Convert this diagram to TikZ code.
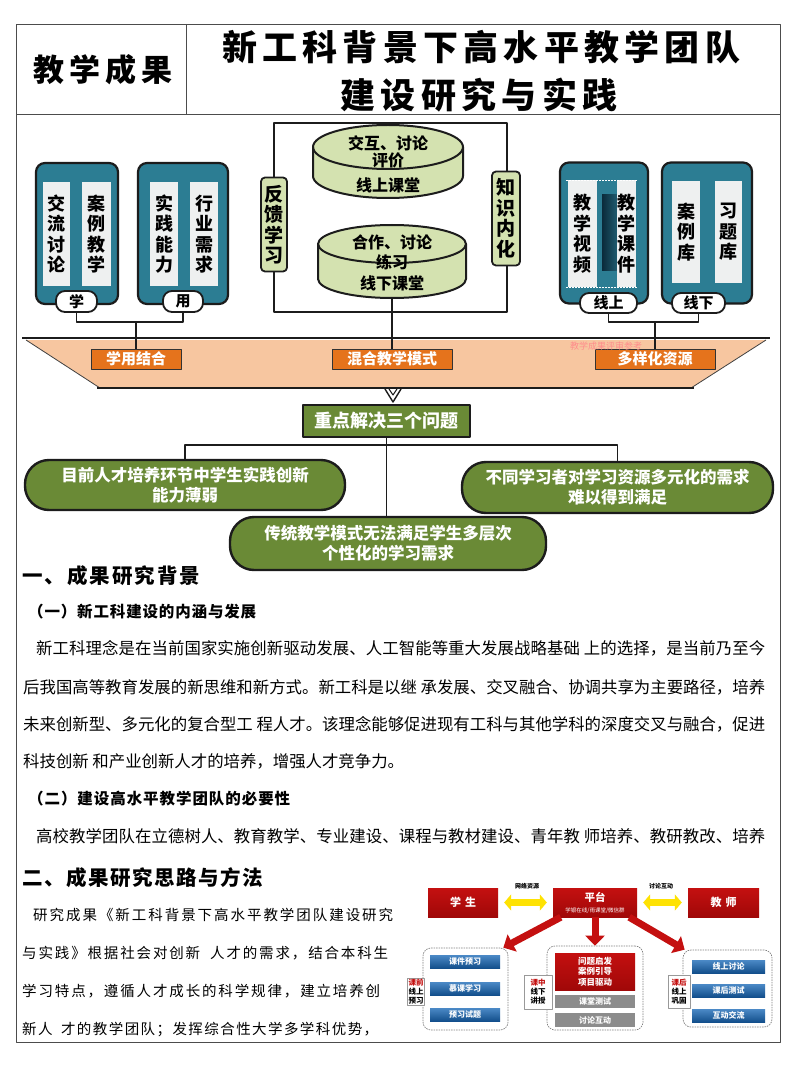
\documentclass[tikz,border=0pt]{standalone}
\usepackage{fontspec}
\usetikzlibrary{calc,arrows.meta,shapes.geometric}
\newfontfamily\cjk{Noto Sans CJK SC}
\definecolor{tealc}{HTML}{2C7D93}
\definecolor{panelc}{HTML}{EEF0F0}
\definecolor{lgreen}{HTML}{D4E2B0}
\definecolor{peach}{HTML}{F7C6A0}
\definecolor{orangec}{HTML}{E5731C}
\definecolor{oliveg}{HTML}{6A8A36}
\definecolor{redc}{HTML}{C41010}
\definecolor{redd}{HTML}{A00808}
\definecolor{bluec}{HTML}{1E6CB8}
\definecolor{blued}{HTML}{134F8C}
\definecolor{darkbar}{HTML}{0B2A3A}
\definecolor{linec}{HTML}{1C1C1C}
\newcommand\fs[2]{\fontsize{#1}{#2}\selectfont}
\def\spreadfirst#1{#1\spreadrest}
\def\spreadrest#1{\ifx#1\relax\else\hskip0pt plus 1pt\relax#1\expandafter\spreadrest\fi}
\newcommand\strline[2]{\makebox[#1pt][s]{\spreadfirst#2\relax}}
\newcommand\cylinder[5]{% cx, rx, ytop, ybot, ry
  \fill[lgreen] (#1-#2,#3) -- (#1-#2,#4) arc[start angle=180,end angle=360,x radius=#2pt,y radius=#5pt] -- (#1+#2,#3) -- cycle;
  \fill[lgreen] (#1,#3) ellipse[x radius=#2pt,y radius=#5pt];
  \draw[line width=2pt,linec] (#1-#2,#3) -- (#1-#2,#4) arc[start angle=180,end angle=360,x radius=#2pt,y radius=#5pt] -- (#1+#2,#3);
  \draw[line width=2pt,linec] (#1,#3) ellipse[x radius=#2pt,y radius=#5pt];}
\begin{document}
\begin{tikzpicture}[x=1pt,y=-1pt,font=\cjk,line join=round,
  tbl/.style={draw=black!70,line width=0.9pt},
  tealbox/.style={draw=linec,line width=2.2pt,fill=tealc,rounded corners=9pt,minimum width=#1,minimum height=141pt,inner sep=0},
  panel/.style={fill=panelc,inner sep=0,minimum width=#1,minimum height=104pt,align=center,font={\cjk\bfseries\fs{18}{20.5}}},
  ovlab/.style={draw=linec,line width=1.8pt,fill=white,rounded corners=9pt,minimum width=#1,minimum height=21pt,inner sep=0,font={\cjk\bfseries\fs{15}{15}}},
  sidebox/.style={draw=linec,line width=1.8pt,fill=lgreen,rounded corners=4pt,minimum width=#1,minimum height=94pt,inner sep=0,align=center,font={\cjk\bfseries\fs{19}{20.5}}},
  cyltext/.style={inner sep=0,font={\cjk\bfseries\fs{16}{16}}},
  conn/.style={draw=linec,line width=1.6pt},
  orlab/.style={draw=black!80,line width=1pt,fill=orangec,text=white,minimum width=#1,minimum height=20pt,inner sep=0,font={\cjk\bfseries\fs{15}{15}}},
  greenbox/.style={draw=linec,line width=1.2pt,fill=oliveg,text=white,inner sep=0,font={\cjk\bfseries\fs{18}{18}}},
  greenoval/.style={draw=linec,line width=2.4pt,fill=oliveg,text=white,rounded corners=24pt,inner sep=0,minimum width=#1,align=center,font={\cjk\bfseries\fs{16.5}{20}}},
  body/.style={anchor=west,inner sep=0,font={\cjk\fs{16.4}{16.4}}},
  body2/.style={anchor=west,inner sep=0,font={\cjk\fs{14.5}{14.5}}},
  subhead/.style={anchor=west,inner sep=0,font={\cjk\bfseries\fs{15.5}{15.5}}},
  head/.style={anchor=west,inner sep=0,font={\cjk\bfseries\fs{20.5}{20.5}}},
  redbox/.style={top color=redc,bottom color=redd,text=white,inner sep=0,minimum width=#1,minimum height=29pt,align=center},
  bluebtn/.style={top color=bluec!80!white,bottom color=blued,text=white,inner sep=0,minimum width=#1,minimum height=13pt,font={\cjk\bfseries\fs{8}{8}}},
  graybtn/.style={fill=black!45,text=white,inner sep=0,minimum width=80pt,minimum height=13pt,font={\cjk\bfseries\fs{8}{8}}},
  dashbox/.style={draw=black!50,dash pattern=on 1.5pt off 1pt,line width=0.7pt,rounded corners=8pt,minimum width=#1,inner sep=0},
  stagelab/.style={draw=black!40,line width=0.5pt,fill=white,inner sep=1pt,align=center,font={\cjk\bfseries\fs{7.5}{9}}},
  redarrow/.style={draw=redc,line width=7pt,-{Triangle[length=10pt,width=19pt]}},
  yarrow/.style={draw=yellow!85!orange,line width=7pt,{Triangle[length=7pt,width=16pt]}-{Triangle[length=7pt,width=16pt]},shorten <=6pt,shorten >=6pt}
]
\useasboundingbox (0,0) rectangle (800,1067);
\fill[white] (0,0) rectangle (800,1067);

% ---------- table ----------
\draw[tbl] (16,24) rectangle (780,1042);
\draw[tbl] (16,114) -- (780,114);
\draw[tbl] (186,24) -- (186,114);
\node[inner sep=0,font={\cjk\bfseries\fs{31}{31}}] (hdl) at (103,70) {\strline{140}{教学成果}};
\node[inner sep=0,font={\cjk\bfseries\fs{35}{35}}] (ttl1) at (481,47) {\strline{518}{新工科背景下高水平教学团队}};
\node[inner sep=0,font={\cjk\bfseries\fs{35}{35}}] (ttl2) at (479,95) {\strline{277}{建设研究与实践}};

% ---------- left group ----------
\node[tealbox=82pt] (b1) at (77,233.5) {};
\node[panel=27pt] (p1a) at (56.5,234) {交\\流\\讨\\论};
\node[panel=29pt] (p1b) at (96.5,234) {案\\例\\教\\学};
\node[ovlab=41pt] (o1) at (76.5,301.5) {学};
\node[tealbox=90pt] (b2) at (183,233.5) {};
\node[panel=28pt] (p2a) at (164,234) {实\\践\\能\\力};
\node[panel=28pt] (p2b) at (204,234) {行\\业\\需\\求};
\node[ovlab=40pt] (o2) at (183,301.5) {用};

% ---------- right group ----------
\node[tealbox=88pt] (b3) at (604,233) {};
\node[panel=29pt,minimum height=107pt] (p3a) at (582.5,233.5) {教\\学\\视\\频};
\node[inner sep=0,minimum width=15pt,minimum height=75pt,left color=darkbar,right color=tealc!60!darkbar] (bar) at (609.5,232.5) {};
\node[panel=19pt,minimum height=107pt] (p3b) at (626.5,233.5) {教\\学\\课\\件};
\draw[white,dash pattern=on 1.5pt off 1.5pt,line width=0.8pt] (566,180) -- (638,180) (566,287) -- (638,287);
\node[tealbox=90pt] (b4) at (707,233) {};
\node[panel=28pt,minimum height=102pt] (p4a) at (686,232) {案\\例\\库};
\node[panel=27pt,minimum height=102pt] (p4b) at (728.5,232) {习\\题\\库};
\node[ovlab=57pt,minimum height=20pt] (o3) at (608.5,303) {线上};
\node[ovlab=53pt,minimum height=20pt] (o4) at (698.5,303) {线下};

% ---------- middle ----------
\draw[conn] (274,123) rectangle (507,312);
\node[sidebox=26pt] (fb) at (274,224.5) {反\\馈\\学\\习};
\node[sidebox=28pt] (zn) at (506,218.5) {知\\识\\内\\化};
\cylinder{388}{75}{147}{176}{22}
\node[cyltext] (c1a) at (388,143) {交互、讨论};
\node[cyltext] (c1b) at (388,160) {评价};
\node[cyltext] (c1c) at (388,185) {线上课堂};
\cylinder{392}{74}{244}{279}{19}
\coordinate (cyl2b) at (392,298);
\node[cyltext] (c2a) at (392,242) {合作、讨论};
\node[cyltext] (c2b) at (392,262) {练习};
\node[cyltext] (c2c) at (392,283) {线下课堂};

% ---------- band ----------
\fill[peach] (26,340) -- (766,340) -- (691,388) -- (100,388) -- cycle;
\draw[line width=0.8pt,black!75] (26,340) -- (100,388) (766,340) -- (691,388);
\draw[line width=2.4pt,linec] (22,338) -- (770,338);
\draw[line width=2.4pt,linec] (97,388) -- (694,388);
\node[orlab=90pt] (lab1) at (136,359) {学用结合};
\node[orlab=120pt] (lab2) at (392,359) {混合教学模式};
\node[orlab=120pt] (lab3) at (655,359) {多样化资源};
\node[inner sep=0,text=red!45!white,font={\cjk\fs{9}{9}}] (wm) at (606,346) {教学成果评审参考};

% connectors upper
\coordinate (jL) at (136,322);
\coordinate (jR) at (655,322);
\draw[conn] (o1.south) |- (jL) -| (o2.south);
\draw[conn] (jL) -- (lab1.north);
\draw[conn] (o3.south) |- (jR) -| (o4.south);
\draw[conn] (jR) -- (lab3.north);
\draw[conn] (cyl2b) -- (lab2.north);

% chevron
\draw[line width=1.4pt,linec] (385,389) -- (393,402) -- (401,389);
\draw[line width=1pt,linec] (389,389) -- (393,395) -- (397,389);

% ---------- problems ----------
\node[greenbox,minimum width=167pt,minimum height=32pt] (gb) at (386.5,421) {重点解决三个问题};
\node[greenoval=320pt,minimum height=50pt] (ov1) at (185,485) {目前人才培养环节中学生实践创新\\能力薄弱};
\node[greenoval=311pt,minimum height=51pt] (ov2) at (617.5,487.5) {不同学习者对学习资源多元化的需求\\难以得到满足};
\coordinate (hy) at (0,445);
\draw[conn] (gb.south) -- (386.5,517);
\node[greenoval=316pt,minimum height=53pt] (ov3) at (388,543.5) {传统教学模式无法满足学生多层次\\个性化的学习需求};
\draw[conn] (ov1.north) |- (hy -| ov2.north) -- (ov2.north);

% ---------- text section 1 ----------
\node[head] (h1) at (22,576) {\strline{178}{一、成果研究背景}};
\node[subhead] (s1) at (28,612) {\strline{228}{（一）新工科建设的内涵与发展}};
\node[body] (l1) at (36,648) {\strline{729}{新工科理念是在当前国家实施创新驱动发展、人工智能等重大发展战略基础~上的选择，是当前乃至今}};
\node[body] (l2) at (23,687) {\strline{742}{后我国高等教育发展的新思维和新方式。新工科是以继~承发展、交叉融合、协调共享为主要路径，培养}};
\node[body] (l3) at (23,724) {\strline{742}{未来创新型、多元化的复合型工~程人才。该理念能够促进现有工科与其他学科的深度交叉与融合，促进}};
\node[body] (l4) at (23,761) {科技创新 和产业创新人才的培养，增强人才竞争力。};
\node[subhead] (s2) at (28,799) {\strline{262}{（二）建设高水平教学团队的必要性}};
\node[body] (l5) at (36,836) {\strline{729}{高校教学团队在立德树人、教育教学、专业建设、课程与教材建设、青年教~师培养、教研教改、培养}};

% ---------- text section 2 ----------
\node[head] (h2) at (22,878) {\strline{241}{二、成果研究思路与方法}};
\node[body2] (m1) at (33,915) {\strline{360}{研究成果《新工科背景下高水平教学团队建设研究}};
\node[body2] (m2) at (22,953) {\strline{366}{与实践》根据社会对创新~人才的需求，结合本科生}};
\node[body2] (m3) at (22,991) {\strline{358}{学习特点，遵循人才成长的科学规律，建立培养创}};
\node[body2] (m4) at (22,1029) {\strline{356}{新人~才的教学团队；发挥综合性大学多学科优势，}};

% ---------- bottom-right diagram ----------
\node[redbox=70pt,font={\cjk\bfseries\fs{11}{11}}] (stu) at (463,902.5) {学\hspace{4pt}生};
\node[redbox=84pt] (plat) at (595,902.5) {{\bfseries\fs{10.5}{11}平台}\\[-1pt]{\fs{5.5}{6}学银在线/雨课堂/微信群}};
\node[redbox=71pt,font={\cjk\bfseries\fs{11}{11}}] (tea) at (723.5,902.5) {教\hspace{4pt}师};
\draw[yarrow] (stu.east) -- (plat.west);
\draw[yarrow] (plat.east) -- (tea.west);
\node[inner sep=0,font={\cjk\bfseries\fs{6}{6}}] (nr) at (527,886) {网络资源};
\node[inner sep=0,font={\cjk\bfseries\fs{6}{6}}] (td) at (661,886) {讨论互动};

\node[dashbox=85pt,minimum height=82pt] (pre) at (465.5,989) {};
\node[dashbox=96pt,minimum height=84pt] (mid) at (595,988) {};
\node[dashbox=89pt,minimum height=77pt] (post) at (727.5,988.5) {};

\draw[redarrow] ($(plat.south west)+(8,0)$) -- ($(pre.north east)+(-5,0)$);
\draw[redarrow] (plat.south) -- (mid.north);
\draw[redarrow] ($(plat.south east)+(-8,0)$) -- ($(post.north west)+(2,0)$);

\node[bluebtn=70pt] (pa) at (465,961.5) {课件预习};
\node[bluebtn=70pt] (pb) at (465,988.5) {慕课学习};
\node[bluebtn=70pt] (pc) at (465,1014.5) {预习试题};
\node[stagelab] (sl1) at (416,992) {\textcolor{redc}{课前}\\线上\\预习};

\node[redbox=80pt,minimum height=37pt,font={\cjk\bfseries\fs{8.5}{10.5}}] (mr) at (595,971.5) {问题启发\\案例引导\\项目驱动};
\node[graybtn] (ma) at (595,1001.5) {课堂测试};
\node[graybtn,minimum height=14pt] (mb) at (595,1020) {讨论互动};
\node[stagelab,minimum width=28pt,minimum height=34pt] (sl2) at (538,992) {\textcolor{redc}{课中}\\线下\\讲授};

\node[bluebtn=73pt] (qa) at (728.5,966.5) {线上讨论};
\node[bluebtn=73pt] (qb) at (728.5,990.5) {课后测试};
\node[bluebtn=73pt] (qc) at (728.5,1015.5) {互动交流};
\node[stagelab,minimum width=22pt,minimum height=33pt] (sl3) at (679,991.5) {\textcolor{redc}{课后}\\线上\\巩固};
\end{tikzpicture}
\end{document}
